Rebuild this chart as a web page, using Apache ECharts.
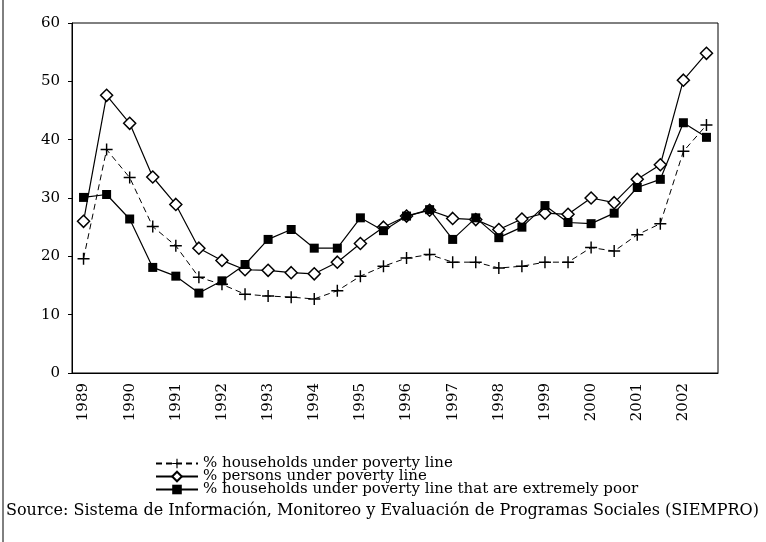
<!DOCTYPE html>
<html>
<head>
<meta charset="utf-8">
<script src="https://cdn.jsdelivr.net/npm/echarts@6/dist/echarts.min.js"></script>
<style>
  html, body { margin: 0; padding: 0; background: #fff; }
  #chart { width: 766px; height: 542px; }
</style>
</head>
<body>
<div id="chart"></div>
<script>
// half-year observations, 1989 .. 2002 (second semester unlabelled)
var years = ['1989', '', '1990', '', '1991', '', '1992', '', '1993', '', '1994', '', '1995', '',
  '1996', '', '1997', '', '1998', '', '1999', '', '2000', '', '2001', '', '2002', ''];

var households = [19.6, 38.3, 33.5, 25.1, 21.8, 16.4, 15.2, 13.5, 13.2, 13.0, 12.7, 14.1, 16.6, 18.3,
  19.7, 20.3, 19.0, 19.0, 18.0, 18.3, 19.0, 19.0, 21.5, 20.9, 23.7, 25.6, 38.0, 42.5];
var persons = [26.0, 47.6, 42.8, 33.6, 28.9, 21.4, 19.3, 17.7, 17.6, 17.2, 17.0, 19.0, 22.2, 25.0,
  26.9, 27.9, 26.5, 26.3, 24.6, 26.4, 27.4, 27.2, 30.0, 29.2, 33.2, 35.7, 50.2, 54.8];
var extreme = [30.1, 30.6, 26.4, 18.1, 16.6, 13.7, 15.8, 18.6, 22.9, 24.6, 21.4, 21.4, 26.6, 24.4,
  26.9, 28.0, 22.9, 26.6, 23.2, 25.0, 28.7, 25.8, 25.6, 27.4, 31.8, 33.2, 42.9, 40.4];

var names = ['% households under poverty line', '% persons under poverty line',
  '% households under poverty line that are extremely poor'];

var serif = 'DejaVu Serif';
var plus = 'path://M4.4,0h1.2v4.4h4.4v1.2h-4.4v4.4h-1.2v-4.4h-4.4v-1.2h4.4z';

var myChart = echarts.init(document.getElementById('chart'));
var option = {
  backgroundColor: '#fff',
  animation: false,
  grid: {
    left: 72, right: 48, top: 23, bottom: 169,
    show: true, borderColor: '#000', borderWidth: 1
  },
  legend: {
    orient: 'vertical',
    left: 150,
    top: 451,
    itemWidth: 42,
    itemHeight: 12,
    itemGap: -2,
    data: names,
    textStyle: { fontFamily: serif, fontSize: 15, color: '#000' }
  },
  xAxis: {
    type: 'category',
    data: years,
    boundaryGap: true,
    axisLine: { lineStyle: { color: '#000' } },
    axisTick: { interval: 0, length: 4, lineStyle: { color: '#000' } },
    axisLabel: {
      interval: 0,
      rotate: 90,
      margin: 10,
      fontFamily: serif,
      fontSize: 15,
      color: '#000'
    },
    splitLine: { show: false }
  },
  yAxis: {
    type: 'value',
    min: 0,
    max: 60,
    interval: 10,
    axisLine: { show: true, lineStyle: { color: '#000' } },
    axisTick: { show: true, length: 4, lineStyle: { color: '#000' } },
    axisLabel: { fontFamily: serif, fontSize: 15, color: '#000', margin: 12 },
    splitLine: { show: false }
  },
  series: [{
    name: names[0],
    type: 'line',
    data: households,
    symbol: plus,
    symbolSize: 12,
    itemStyle: { color: '#000' },
    lineStyle: { color: '#000', width: 1, type: [6, 4] }
  }, {
    name: names[1],
    type: 'line',
    data: persons,
    symbol: 'diamond',
    symbolSize: 12,
    itemStyle: { color: '#fff', borderColor: '#000', borderWidth: 1.5 },
    lineStyle: { color: '#000', width: 1.2 }
  }, {
    name: names[2],
    type: 'line',
    data: extreme,
    symbol: 'rect',
    symbolSize: 9,
    itemStyle: { color: '#000' },
    lineStyle: { color: '#000', width: 1.2 }
  }],
  graphic: [{
    type: 'line',
    shape: { x1: 3, y1: 0, x2: 3, y2: 542 },
    style: { stroke: '#000', lineWidth: 1 }
  }, {
    type: 'text',
    left: 6,
    top: 503,
    style: {
      text: 'Source: Sistema de Información, Monitoreo y Evaluación de Programas Sociales (SIEMPRO)',
      fontFamily: serif,
      fontSize: 16,
      fill: '#000'
    }
  }]
};

myChart.setOption(option);
window.addEventListener('resize', function () {
  myChart.resize();
});
</script>
</body>
</html>
